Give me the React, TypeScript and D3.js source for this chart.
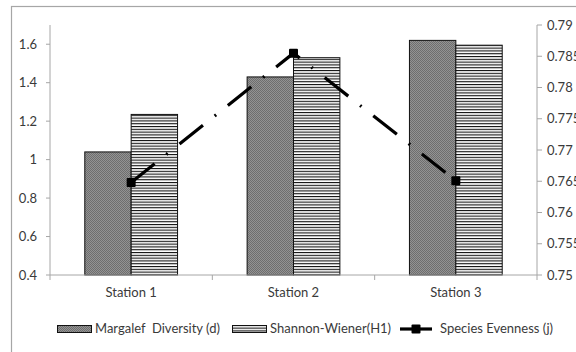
import React from "react";
import * as d3 from "d3";

// Stations and diversity indices
const stations = ["Station 1", "Station 2", "Station 3"];
const barSeries = ["Margalef  Diversity (d)", "Shannon-Wiener(H1)"];
const margalef = [1.04, 1.43, 1.62];
const shannon = [1.235, 1.53, 1.595];
const evenness = [0.7648, 0.7855, 0.7651];
const evennessLabel = "Species Evenness (j)";

// Axis ticks
const leftTicks = [0.4, 0.6, 0.8, 1, 1.2, 1.4, 1.6];
const rightTicks = [0.75, 0.755, 0.76, 0.765, 0.77, 0.775, 0.78, 0.785, 0.79];

const W = 576;
const H = 352;
const plot = { left: 50, right: 537, top: 25, bottom: 275 };
const FONT = "Lato, 'Open Sans', sans-serif";
const TEXT = "#3a3a3a";
const AXIS = "#a6a6a6";

export default function App() {
  const x = d3
    .scaleBand<string>()
    .domain(stations)
    .range([plot.left, plot.right])
    .paddingInner(0)
    .paddingOuter(0);
  const xs = d3
    .scaleBand<string>()
    .domain(barSeries)
    .range([0, x.bandwidth()])
    .paddingInner(0)
    .paddingOuter(0.75);
  const yL = d3.scaleLinear().domain([0.4, 1.7]).range([plot.bottom, plot.top]);
  const yR = d3.scaleLinear().domain([0.75, 0.79]).range([plot.bottom, plot.top]);

  const values = [margalef, shannon];
  const fills = ["url(#checker)", "url(#hlines)"];

  const cx = (s: string) => (x(s) ?? 0) + x.bandwidth() / 2;
  const linePath = d3
    .line<number>()
    .x((_, i) => cx(stations[i]))
    .y((d) => yR(d))(evenness);

  const fmt = (v: number) => String(+v.toFixed(3));

  return (
    <svg
      width={W}
      height={H}
      style={{ position: "absolute", left: 0, top: 0, background: "#fff" }}
      fontFamily={FONT}
    >
      <defs>
        <pattern id="checker" width={2} height={2} patternUnits="userSpaceOnUse">
          <rect width={2} height={2} fill="#939393" />
          <rect width={1} height={1} fill="#6e6e6e" />
          <rect x={1} y={1} width={1} height={1} fill="#6e6e6e" />
        </pattern>
        <pattern id="hlines" width={4} height={2.8} patternUnits="userSpaceOnUse">
          <rect width={4} height={2.8} fill="#fff" />
          <rect y={0} width={4} height={1.1} fill="#111" />
        </pattern>
      </defs>

      {/* chart frame */}
      <rect x={11.5} y={6.5} width={W} height={H} fill="none" stroke={AXIS} strokeWidth={1.2} />

      {/* bars */}
      {values.map((vals, si) =>
        stations.map((s, i) => {
          const bx = (x(s) ?? 0) + (xs(barSeries[si]) ?? 0);
          const top = yL(vals[i]);
          return (
            <rect
              key={`${si}-${i}`}
              x={bx}
              y={top}
              width={xs.bandwidth()}
              height={plot.bottom - top}
              fill={fills[si]}
              stroke="#111"
              strokeWidth={1}
            />
          );
        })
      )}

      {/* left axis */}
      <line x1={plot.left} x2={plot.left} y1={plot.top} y2={plot.bottom} stroke={AXIS} />
      {leftTicks.map((t) => (
        <g key={t}>
          <line x1={plot.left - 4} x2={plot.left} y1={yL(t)} y2={yL(t)} stroke={AXIS} />
          <text x={37} y={yL(t)} dy="0.35em" textAnchor="end" fontSize={13} fill={TEXT}>
            {fmt(t)}
          </text>
        </g>
      ))}

      {/* right axis */}
      <line x1={plot.right} x2={plot.right} y1={plot.top} y2={plot.bottom} stroke={AXIS} />
      {rightTicks.map((t) => (
        <g key={t}>
          <line x1={plot.right} x2={plot.right + 5} y1={yR(t)} y2={yR(t)} stroke={AXIS} />
          <text x={plot.right + 10} y={yR(t)} dy="0.35em" fontSize={13} fill={TEXT}>
            {fmt(t)}
          </text>
        </g>
      ))}

      {/* category axis */}
      <line x1={plot.left} x2={plot.right} y1={plot.bottom} y2={plot.bottom} stroke={AXIS} />
      {[...stations.map((s) => x(s) ?? 0), plot.right].map((px, i) => (
        <line key={i} x1={px} x2={px} y1={plot.bottom} y2={plot.bottom + 5} stroke={AXIS} />
      ))}
      {stations.map((s) => (
        <text key={s} x={cx(s)} y={297} textAnchor="middle" fontSize={13} fill={TEXT}>
          {s}
        </text>
      ))}

      {/* evenness line */}
      <path
        d={linePath ?? ""}
        fill="none"
        stroke="#000"
        strokeWidth={3.2}
        strokeDasharray="30 15 1.8 15"
      />
      {evenness.map((v, i) => (
        <rect
          key={i}
          x={cx(stations[i]) - 4.5}
          y={yR(v) - 4.5}
          width={9}
          height={9}
          rx={1}
          fill="#000"
        />
      ))}

      {/* legend */}
      <g fontSize={13} fill={TEXT} style={{ whiteSpace: "pre" }}>
        <rect x={57.5} y={325.5} width={34} height={7} fill="url(#checker)" stroke="#111" />
        <text x={95} y={333} xmlSpace="preserve">{barSeries[0]}</text>
        <rect x={232.5} y={325.5} width={34} height={7} fill="url(#hlines)" stroke="#111" />
        <text x={270} y={333}>{barSeries[1]}</text>
        <line x1={400} x2={432} y1={329} y2={329} stroke="#000" strokeWidth={3.2} />
        <rect x={411.5} y={324.5} width={9} height={9} rx={1} fill="#000" />
        <text x={440} y={333}>{evennessLabel}</text>
      </g>
    </svg>
  );
}
